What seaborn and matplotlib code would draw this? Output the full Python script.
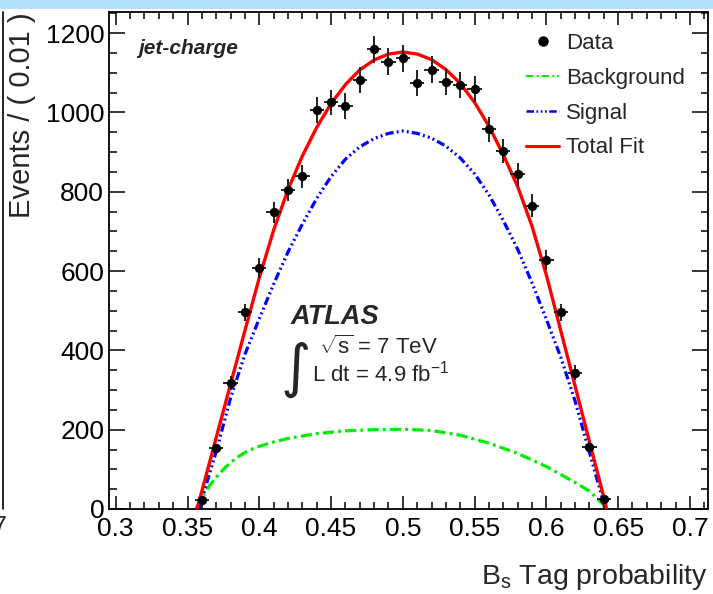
import numpy as np
import pandas as pd
import matplotlib
matplotlib.use("Agg")
import matplotlib.pyplot as plt
import seaborn as sns
from matplotlib.ticker import MultipleLocator, FuncFormatter
from matplotlib.lines import Line2D
from matplotlib.patches import Rectangle

# ---------------- data ----------------
data_x = [0.36, 0.37, 0.38, 0.39, 0.40, 0.41, 0.42, 0.43, 0.44, 0.45,
          0.46, 0.47, 0.48, 0.49, 0.50, 0.51, 0.52, 0.53, 0.54, 0.55,
          0.56, 0.57, 0.58, 0.59, 0.60, 0.61, 0.62, 0.63, 0.64]
data_y = [23, 153, 317, 496, 607, 748, 804, 839, 1006, 1025,
          1016, 1081, 1159, 1128, 1136, 1075, 1108, 1076, 1069, 1059,
          957, 903, 844, 765, 628, 496, 344, 157, 24]
data_yerr = [5, 12, 18, 22, 25, 27, 28, 29, 32, 32,
             32, 33, 34, 34, 34, 33, 33, 33, 33, 33,
             31, 30, 29, 28, 25, 22, 19, 13, 5]
data_xerr = 0.005

total_x = [0.3565, 0.36, 0.37, 0.38, 0.39, 0.40, 0.41, 0.42, 0.43, 0.44, 0.45,
           0.46, 0.47, 0.48, 0.49, 0.50, 0.51, 0.52, 0.53, 0.54, 0.55,
           0.56, 0.57, 0.58, 0.59, 0.60, 0.61, 0.62, 0.63, 0.64, 0.642]
total_y = [0, 45, 180, 315, 450, 583, 703, 805, 890, 962, 1022,
           1070, 1107, 1132, 1147, 1152, 1147, 1133, 1108, 1073, 1025,
           965, 893, 813, 713, 590, 450, 310, 170, 30, 0]

signal_x = [0.3585, 0.36, 0.37, 0.38, 0.39, 0.40, 0.41, 0.42, 0.43, 0.44, 0.45,
            0.46, 0.47, 0.48, 0.49, 0.50, 0.51, 0.52, 0.53, 0.54, 0.55,
            0.56, 0.57, 0.58, 0.59, 0.60, 0.61, 0.62, 0.63, 0.64, 0.6412]
signal_y = [0, 25, 145, 280, 390, 480, 567, 648, 718, 783, 838,
            882, 913, 934, 947, 953, 947, 935, 915, 885, 845,
            792, 727, 655, 570, 478, 383, 272, 143, 15, 0]

bkg_x = [0.356, 0.358, 0.36, 0.365, 0.37, 0.375, 0.38, 0.385, 0.39, 0.395,
         0.40, 0.41, 0.42, 0.44, 0.46, 0.48, 0.50,
         0.52, 0.54, 0.56, 0.58, 0.60, 0.62, 0.63, 0.64, 0.6405]
bkg_y = [0, 15, 30, 57, 80, 100, 117, 131, 142, 151,
         158, 169, 178, 190, 197, 200, 201,
         198, 186, 166, 140, 107, 67, 45, 10, 0]

x_ticks = [0.3, 0.35, 0.4, 0.45, 0.5, 0.55, 0.6, 0.65, 0.7]
y_ticks = [0, 200, 400, 600, 800, 1000, 1200]
legend_labels = ["Data", "Background", "Signal", "Total Fit"]

# ---------------- style ----------------
sns.set_style("ticks")
plt.rcParams["font.family"] = ["Liberation Sans", "DejaVu Sans"]
plt.rcParams["mathtext.fontset"] = "custom"
plt.rcParams["mathtext.rm"] = "Liberation Sans"
plt.rcParams["mathtext.it"] = "Liberation Sans:italic"
plt.rcParams["mathtext.bf"] = "Liberation Sans:bold"

W, H = 713, 594
fig = plt.figure(figsize=(W / 100, H / 100), dpi=100)
fig.patch.set_facecolor("white")

def fx(px):
    return px / W

def fy(py):
    return 1 - py / H

ax = fig.add_axes([fx(109), fy(509), (708 - 109) / W, (509 - 12) / H])
ax.set_facecolor("white")

green_ls = (0, (3.5, 1.3, 0.9, 1.3))
blue_ls = (0, (2.6, 1.0, 0.6, 1.0, 0.6, 1.0, 0.6, 1.0))

df_tot = pd.DataFrame({"x": total_x, "y": total_y})
df_sig = pd.DataFrame({"x": signal_x, "y": signal_y})
df_bkg = pd.DataFrame({"x": bkg_x, "y": bkg_y})
df_dat = pd.DataFrame({"x": data_x, "y": data_y, "yerr": data_yerr})

sns.lineplot(data=df_bkg, x="x", y="y", ax=ax, color="#00ee00", lw=2.3,
             linestyle=green_ls, zorder=2)
sns.lineplot(data=df_sig, x="x", y="y", ax=ax, color="#0000ff", lw=2.3,
             linestyle=blue_ls, zorder=2)
sns.lineplot(data=df_tot, x="x", y="y", ax=ax, color="#ff0000", lw=2.4,
             zorder=3)

ax.errorbar(df_dat["x"], df_dat["y"], yerr=df_dat["yerr"], xerr=data_xerr,
            fmt="none", ecolor="#222222", elinewidth=1.4, capsize=0, zorder=4)
sns.scatterplot(data=df_dat, x="x", y="y", ax=ax, color="black", s=45,
                edgecolor="black", linewidth=0, zorder=5)

# ---------------- axes ----------------
ax.xaxis.set_minor_locator(MultipleLocator(0.01))
ax.yaxis.set_minor_locator(MultipleLocator(50))
ax.set_xticks(x_ticks)
ax.set_yticks(y_ticks)
ax.xaxis.set_major_formatter(FuncFormatter(lambda v, p: "%g" % round(v, 3)))
ax.yaxis.set_major_formatter(FuncFormatter(lambda v, p: "%d" % v))
ax.set_xlim(0.2953, 0.7126)
ax.set_ylim(0, 1253)

for s in ax.spines.values():
    s.set_linewidth(1.3)
    s.set_color("black")

ax.tick_params(axis="both", which="both", direction="in", top=True, right=True,
               colors="black", width=1.1, labelsize=19)
ax.tick_params(axis="x", which="major", length=9.5, pad=5.5)
ax.tick_params(axis="x", which="minor", length=4.7)
ax.tick_params(axis="y", which="major", length=11.5, pad=3.5)
ax.tick_params(axis="y", which="minor", length=5.4)
ax.set_xlabel("")
ax.set_ylabel("")

fig.text(fx(708), fy(577), r"B$_{\mathrm{s}}$ Tag probability", ha="right",
         va="center", fontsize=20.5)
fig.text(fx(22), fy(12), "Events / ( 0.01 )", rotation=90, ha="center",
         va="top", fontsize=21)

# ---------------- annotations ----------------
fig.text(fx(138), fy(49), "jet-charge", fontsize=15, fontweight="bold",
         fontstyle="italic", ha="left", va="center")
fig.text(fx(291), fy(317), "ATLAS", fontsize=19.5, fontweight="bold",
         fontstyle="italic", ha="left", va="center")
fig.text(fx(319), fy(347), r"$\sqrt{\mathrm{s}}$ = 7 TeV", fontsize=16, ha="left",
         va="center")
fig.text(fx(312), fy(374), r"L dt = 4.9 fb$^{-1}$", fontsize=16, ha="left",
         va="center")
fig.text(fx(296), fy(369), "\u222b", fontsize=42, ha="center", va="center",
         family=["DejaVu Sans"])

# ---------------- legend ----------------
handles = [
    Line2D([], [], marker="o", color="black", linestyle="none", markersize=6.5),
    Line2D([], [], color="#00ee00", lw=1.4, linestyle=(0, (4, 1.5, 1, 1.5))),
    Line2D([], [], color="#0000ff", lw=1.8, linestyle=(0, (3, 1, 0.7, 1, 0.7, 1, 0.7, 1))),
    Line2D([], [], color="#ff0000", lw=2.2),
]
leg = ax.legend(handles, legend_labels, loc="upper left",
                bbox_to_anchor=(fx(526), fy(33)), bbox_transform=fig.transFigure,
                frameon=False, fontsize=16, handlelength=1.5, handletextpad=0.3,
                labelspacing=0.62, borderpad=0, borderaxespad=0)

# ---------------- frame decorations ----------------
fig.patches.append(Rectangle((0, fy(9)), 1, 9 / H, transform=fig.transFigure,
                             facecolor="#b3e0fb", edgecolor="none"))
fig.lines.append(Line2D([fx(2.5), fx(2.5)], [fy(12), fy(509)],
                        transform=fig.transFigure, color="black", lw=1.2))
fig.text(fx(7), fy(527), "7", fontsize=18, ha="right", va="center")

fig.savefig("out.png", dpi=100)
